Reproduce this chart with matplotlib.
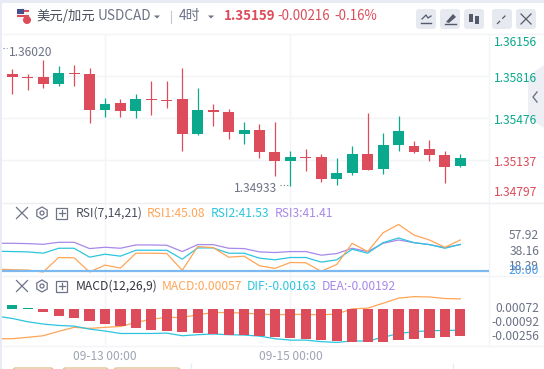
import matplotlib
matplotlib.use("Agg")
import matplotlib.pyplot as plt
from matplotlib.patches import Circle, FancyBboxPatch, Polygon, RegularPolygon, Rectangle

plt.rcParams['font.family'] = ['Noto Sans CJK SC', 'DejaVu Sans']

W, H = 544, 369

RED = '#dc4c5a'
GREEN = '#0aa88c'
ORANGE = '#ffa557'
CYAN = '#2cc5de'
PURPLE = '#a888e8'
GREY = '#6d7286'
GRID = '#f3f4f8'

# ---- candles, first one is cut off by the left edge ----
idx = list(range(-1, 30))
opens = [1.35877, 1.35836, 1.35812, 1.35812, 1.35755, 1.35844, 1.35836, 1.35545, 1.35601, 1.35537,
         1.35634, 1.35626, 1.35634, 1.35350, 1.35545, 1.35529, 1.35350, 1.35383, 1.35205, 1.35132,
         1.35164, 1.35164, 1.34986, 1.35034, 1.35188, 1.35067, 1.35261, 1.35253, 1.35229, 1.35180, 1.35091]
closes = [1.35836, 1.35812, 1.35804, 1.35755, 1.35844, 1.35836, 1.35545, 1.35593, 1.35537, 1.35634,
          1.35626, 1.35618, 1.35350, 1.35545, 1.35529, 1.35367, 1.35383, 1.35205, 1.35132, 1.35164,
          1.35156, 1.34986, 1.35034, 1.35188, 1.35059, 1.35261, 1.35375, 1.35205, 1.35180, 1.35083, 1.35156]
highs = [1.35877, 1.35869, 1.35836, 1.35942, 1.35901, 1.35909, 1.35885, 1.35642, 1.35634, 1.35674,
         1.35772, 1.35772, 1.35885, 1.35723, 1.35593, 1.35553, 1.35448, 1.35431, 1.35448, 1.35213,
         1.35229, 1.35186, 1.35156, 1.35253, 1.35520, 1.35358, 1.35496, 1.35294, 1.35302, 1.35213, 1.35188]
lows = [1.35836, 1.35674, 1.35699, 1.35723, 1.35739, 1.35739, 1.35439, 1.35488, 1.35488, 1.35480,
        1.35504, 1.35561, 1.35213, 1.35342, 1.35415, 1.35310, 1.35269, 1.35156, 1.35010, 1.34929,
        1.35051, 1.34961, 1.34937, 1.35018, 1.35059, 1.35026, 1.35213, 1.35196, 1.35132, 1.34953, 1.35083]

price_ticks = [1.35816, 1.35476, 1.35137]

# ---- RSI ----
rsi1 = [21.61, 21.08, 20.81, 19.21, 30.94, 30.68, 19.21, 24.81, 22.41, 34.41, 34.41, 34.14, 20.54, 39.74, 38.94, 31.21,
        32.01, 24.28, 22.14, 26.94, 26.68, 19.74, 25.34, 42.41, 35.74, 50.94, 57.61, 49.08, 45.08, 39.21, 45.08]
rsi2 = [36.01, 35.74, 35.48, 34.41, 38.41, 38.41, 31.21, 33.61, 32.01, 36.81, 36.81, 36.81, 29.61, 38.68, 38.68, 34.41,
        34.41, 30.41, 29.08, 30.94, 30.94, 27.21, 29.08, 37.61, 34.41, 42.94, 46.68, 42.94, 41.35, 38.41, 41.53]
rsi3 = [42.41, 42.41, 42.15, 41.61, 43.21, 43.21, 38.14, 39.21, 38.41, 41.08, 41.08, 40.81, 35.74, 41.35, 41.35, 38.41,
        38.14, 35.48, 34.94, 35.74, 35.74, 32.81, 34.14, 38.41, 35.74, 42.41, 45.08, 42.94, 41.35, 38.94, 41.41]
rsi_level = 20.0

# ---- MACD ----
macd_idx = list(range(0, 30))
macd_hist = [0.00023, 0.00002, -0.00017, -0.00040, -0.00051, -0.00068, -0.00086, -0.00097, -0.00108, -0.00120,
             -0.00125, -0.00131, -0.00137, -0.00143, -0.00148, -0.00148, -0.00154, -0.00160, -0.00165, -0.00171,
             -0.00177, -0.00182, -0.00188, -0.00188, -0.00188, -0.00177, -0.00171, -0.00165, -0.00160, -0.00154]
macd_line = [-0.00171, -0.00171, -0.00163, -0.00154, -0.00129, -0.00106, -0.00112, -0.00106, -0.00101, -0.00078, -0.00059,
             -0.00049, -0.00049, -0.00034, -0.00021, -0.00021, -0.00025, -0.00030, -0.00034, -0.00032, -0.00032,
             -0.00034, -0.00030, 0.00000, 0.00004, 0.00032, 0.00061, 0.00070, 0.00068, 0.00059, 0.00057]
dif_line = [-0.00042, -0.00055, -0.00074, -0.00087, -0.00095, -0.00099, -0.00116, -0.00127, -0.00141, -0.00141, -0.00141,
            -0.00139, -0.00154, -0.00148, -0.00144, -0.00148, -0.00150, -0.00156, -0.00171, -0.00179, -0.00179,
            -0.00188, -0.00192, -0.00184, -0.00184, -0.00163, -0.00141, -0.00131, -0.00125, -0.00124, -0.00122]

date_pos = [6, 18]
date_labels = ['09-13 00:00', '09-15 00:00']

fig = plt.figure(figsize=(W / 100, H / 100), dpi=100, facecolor='white')


def panel(x0, y0, x1, y1):
    ax = fig.add_axes([x0 / W, 1 - y1 / H, (x1 - x0) / W, (y1 - y0) / H])
    ax.set_xlim((2 - 12.3) / 15.45, (488.5 - 12.3) / 15.45)
    for s in ax.spines.values():
        s.set_visible(False)
    ax.patch.set_alpha(0)
    ax.tick_params(length=0, labelleft=False, labelbottom=False)
    return ax


# overlay in pixel coordinates for the window chrome
bg = fig.add_axes([0, 0, 1, 1], zorder=0)
bg.set_xlim(0, W)
bg.set_ylim(H, 0)
bg.axis('off')
bg.add_patch(Rectangle((0, 0), 2, H, color='#e8ebf3', lw=0))
bg.add_patch(Rectangle((0, 0), W, 3, color='#e8ebf3', lw=0))
bg.hlines([33.5, 275.5, 345.5], 2, 544, color=GRID, lw=1)
bg.hlines(202.5, 2, 544, color='#eceef3', lw=1)
bg.vlines(488.5, 34, 345, color=GRID, lw=1)
bg.vlines(date_pos[0] * 15.45 + 12.3, 34, 345, color=GRID, lw=1)
bg.vlines(date_pos[1] * 15.45 + 12.3, 34, 345, color=GRID, lw=1)

# main panel
ax = panel(2, 34, 488.5, 202)
ax.set_ylim(1.34797, 1.36156)
ax.set_yticks(price_ticks)
ax.grid(axis='y', color=GRID, lw=1)
ax.set_axisbelow(True)
for i, o, c, h, l in zip(idx, opens, closes, highs, lows):
    col = GREEN if c > o else RED
    ax.vlines(i, l, h, color=col, lw=0.9)
    ax.bar(i, max(abs(c - o), 0.00008), bottom=min(o, c), width=0.71, color=col, lw=0)

# RSI panel
ax2 = panel(2, 203, 488.5, 275)
ax2.set_ylim(16.81, 74.95)
ax2.set_yticks([])
ax2.plot(idx, rsi3, color=PURPLE, lw=0.9)
ax2.plot(idx, rsi2, color=CYAN, lw=0.9)
ax2.plot(idx, rsi1, color=ORANGE, lw=0.9)
ax2.axhline(rsi_level, color='#7cb9f0', lw=1.6)

# MACD panel, the bars cover the lines
ax3 = panel(2, 276, 488.5, 345)
ax3.set_ylim(-0.00207, 0.00188)
ax3.set_yticks([])
ax3.plot(idx, macd_line, color=ORANGE, lw=0.9, zorder=1)
ax3.plot(idx, dif_line, color=CYAN, lw=0.9, zorder=1)
ax3.bar(macd_idx, macd_hist, width=0.66, color=[GREEN if v > 0 else RED for v in macd_hist], lw=0, zorder=2)
ax3.set_xticks(date_pos)
ax3.set_xticklabels(date_labels, fontsize=8.6, color='#a0a4b3')
ax3.tick_params(axis='x', labelbottom=True, pad=3.5)

# text and chrome on top
fg = fig.add_axes([0, 0, 1, 1], zorder=5)
fg.set_xlim(0, W)
fg.set_ylim(H, 0)
fg.axis('off')


def label(x, y, s, color=GREY, size=8.7, ha='left', **kw):
    fg.text(x, y, s, color=color, fontsize=size, ha=ha, va='center', **kw)


def caret(x, y):
    fg.add_patch(Polygon([(x - 3, y - 1.5), (x + 3, y - 1.5), (x, y + 1.5)], color=GREY, lw=0))


def close_mark(x, y, r, col):
    fg.plot([x - r, x + r], [y - r, y + r], color=col, lw=0.9)
    fg.plot([x - r, x + r], [y + r, y - r], color=col, lw=0.9)


def tools(y):
    close_mark(22, y, 5.5, GREY)
    fg.add_patch(RegularPolygon((42, y), 6, radius=6, fill=False, ec=GREY, lw=0.9))
    fg.add_patch(Circle((42, y), 2, fill=False, ec=GREY, lw=0.9))
    fg.add_patch(Rectangle((56, y - 5.5), 11, 11, fill=False, ec=GREY, lw=0.9))
    fg.plot([58.5, 64.5], [y, y], color=GREY, lw=0.9)
    fg.plot([61.5, 61.5], [y - 3, y + 3], color=GREY, lw=0.9)


# flag
fg.add_patch(Circle((23, 14), 6, color='#f2f2f5', lw=0))
fg.add_patch(Rectangle((17, 9), 7, 5, color='#44508c', lw=0))
fg.add_patch(Rectangle((24, 10), 5, 1.5, color=RED, lw=0))
fg.add_patch(Rectangle((17, 15), 12, 1.5, color=RED, lw=0))
fg.add_patch(Circle((27, 20), 4, color=RED, lw=0))
label(36, 16, '美元/加元', color='#4a4e5c', size=9.6)
label(98, 16, 'USDCAD', size=9.8)
caret(157, 17)
fg.plot([170.5, 170.5], [11, 23], color='#c4c8d4', lw=0.8)
label(179, 16, '4时', size=10)
caret(211, 17)
label(224, 16, '1.35159', color=RED, size=9.6, fontweight='bold')
label(277, 16, '-0.00216', color=RED, size=9.6)
label(334, 16, '-0.16%', color=RED, size=9.6)

# toolbar buttons
for bx in [416, 440, 464, 492, 516]:
    fg.add_patch(FancyBboxPatch((bx + 2, 11), 16, 16, boxstyle='round,pad=2,rounding_size=3',
                                fc='#e6e9f0', ec='none'))
fg.plot([422, 426, 428, 431], [19, 15, 18, 16], color='#555a6b', lw=0.9)
fg.plot([421, 431], [23, 23], color='#555a6b', lw=1)
fg.add_patch(Polygon([(446, 22), (453, 14), (456, 17), (449, 23)], color='#555a6b', lw=0))
fg.plot([445, 456], [24, 24], color='#555a6b', lw=1)
fg.add_patch(Rectangle((469, 14), 4, 8, color='#555a6b', lw=0))
fg.add_patch(Rectangle((475, 16), 4, 8, color='#555a6b', lw=0))
fg.plot([497, 507], [24, 14], color='#555a6b', lw=0.9, ls=(0, (3.5, 2.5)))
close_mark(526, 19, 5, '#555a6b')

# right hand tab
fg.add_patch(Polygon([(528, 76), (544, 65), (544, 128), (528, 118)], color='#eceef3', lw=0, alpha=0.9))
fg.plot([537, 533, 537], [92, 97, 102], color=GREY, lw=1)

# price axis
label(494, 43, '1.36156', color=GREEN)
label(494, 78, '1.35816', color=GREEN)
label(494, 121, '1.35476', color=GREEN)
label(494, 163, '1.35137', color=RED)
label(494, 193, '1.34797', color=RED)
label(9, 52.5, '1.36020')
fg.plot([3, 7], [48, 48], color=GREY, lw=0.8, ls=(0, (1, 2)))
label(234, 188.5, '1.34933')
fg.plot([280, 290], [185, 185], color=GREY, lw=0.8, ls=(0, (1, 2)))

# RSI header and axis
tools(213)
label(76, 213.5, 'RSI(7,14,21)', color='#4a4e5c')
label(147, 213.5, 'RSI1:45.08', color=ORANGE)
label(211, 213.5, 'RSI2:41.53', color=CYAN)
label(275, 213.5, 'RSI3:41.41', color=PURPLE)
label(539, 235.5, '57.92', ha='right')
label(539, 251.5, '38.16', ha='right')
label(539, 266, '18.39', ha='right')
label(539, 270.5, '20.00', color='#4a9df0', ha='right')

# MACD header and axis
tools(286)
label(76, 286.5, 'MACD(12,26,9)', color='#33363f')
label(162, 286.5, 'MACD:0.00057', color=ORANGE)
label(247, 286.5, 'DIF:-0.00163', color=CYAN)
label(322, 286.5, 'DEA:-0.00192', color=PURPLE)
label(539, 308.5, '0.00072', ha='right')
label(539, 322.5, '-0.00092', ha='right')
label(539, 336.5, '-0.00256', ha='right')

# tops of the buttons under the chart
for bx, bw in [(13, 40), (63, 45), (114, 66)]:
    fg.add_patch(FancyBboxPatch((bx, 368), bw, 6, boxstyle='round,pad=0,rounding_size=2',
                                fc='none', ec='#d8b878', lw=0.8, clip_on=True))
fg.vlines([190.5, 452.5], 363, 369, color='#e8ebf0', lw=1)

fig.savefig('out.png', dpi=100)
